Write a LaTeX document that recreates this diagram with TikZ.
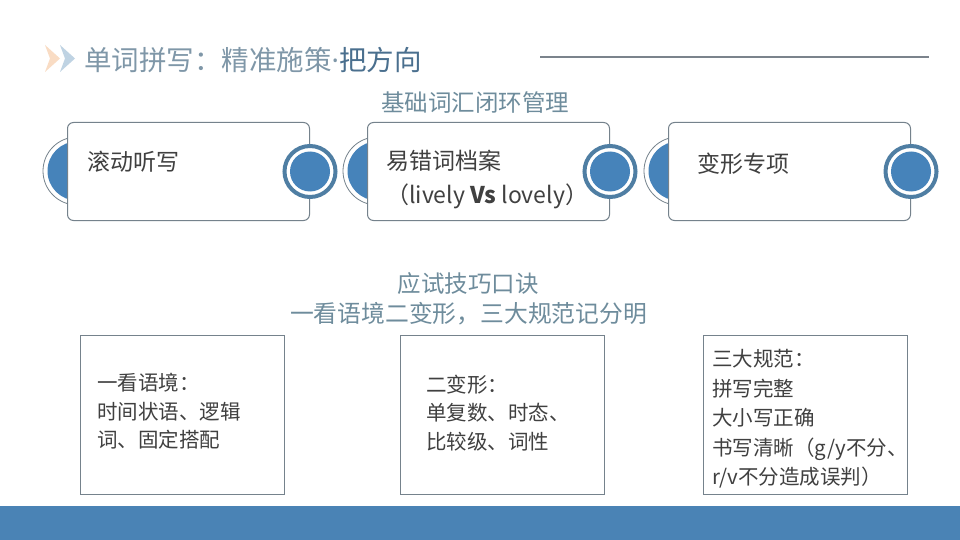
\documentclass[tikz,border=0pt]{standalone}
\usepackage{fontspec}
\setmainfont{Noto Sans CJK SC}
\newfontfamily\latinfont{Noto Sans}
\definecolor{tlight}{HTML}{7F97A8}
\definecolor{tdark}{HTML}{4A6F8E}
\definecolor{subc}{HTML}{6E8C9C}
\definecolor{textgray}{HTML}{404040}
\definecolor{boxgray}{HTML}{75828C}
\definecolor{cblue}{HTML}{4683BA}
\definecolor{ringblue}{HTML}{4F7EA3}
\definecolor{band}{HTML}{4A83B5}
\definecolor{linegray}{HTML}{7B838C}
\definecolor{chevo}{HTML}{F9DCC4}
\definecolor{chevb}{HTML}{BFD3E3}
\begin{document}
\begin{tikzpicture}[x=1pt,y=-1pt,
  topbox/.style={draw=boxgray, line width=1pt, rounded corners=6pt, fill=white,
    minimum width=242pt, minimum height=98pt, anchor=north west, inner sep=0pt},
  bottombox/.style={draw=boxgray, line width=0.9pt, fill=white,
    minimum width=204pt, minimum height=159pt, anchor=north west, inner sep=0pt},
  boxtxt/.style={inner sep=0pt, anchor=base west, text=textgray, font=\fontsize{23}{27}\selectfont},
  smalltxt/.style={inner sep=0pt, anchor=base west, text=textgray, font=\fontsize{20.5}{24}\selectfont},
  subtxt/.style={inner sep=0pt, anchor=base, text=subc, font=\fontsize{23.5}{27}\selectfont}]
\useasboundingbox (0,0) rectangle (960,540);
\fill[white] (0,0) rectangle (960,540);

% title chevrons
\fill[chevo] (45,45) -- (60,58.5) -- (45,72) -- (50,58.5) -- cycle;
\fill[chevb] (60,45) -- (75,58.5) -- (60,72) -- (65,58.5) -- cycle;
\node[inner sep=0pt, anchor=base west, font=\fontsize{27.5}{30}\selectfont] (title) at (84,70.5)
  {{\color{tlight}单词拼写：精准施策{\latinfont ·}}{\color{tdark}把方向}};
\coordinate (la) at (540,57);
\coordinate (lb) at (929,57);
\draw[linegray, line width=1.2pt] (la) -- (lb);

\node[subtxt] (sub1) at (475,112) {基础词汇闭环管理};

% top boxes: back circles first
\foreach \cx in {77,377,678}{
  \fill[white] (\cx,171) circle (34);
  \draw[boxgray, line width=0.8pt] (\cx,171) circle (34);
  \fill[cblue] (\cx,171) circle (29.5);
}
\node[topbox] (b1) at (67,122) {};
\node[topbox] (b2) at (367,122) {};
\node[topbox] (b3) at (668,122) {};
\foreach \b in {b1,b2,b3}{
  \fill[white] (\b.east) circle (27.5);
  \draw[ringblue, line width=4pt] (\b.east) circle (25.5);
  \fill[cblue] (\b.east) circle (20);
}
\node[boxtxt] (t1) at (87,170.7) {滚动听写};
\node[boxtxt] (t2a) at (386,170) {易错词档案};
\node[boxtxt] (t2b) at (386,203.7) {（lively \textbf{Vs} lovely）};
\node[boxtxt] (t3) at (697,172.8) {变形专项};

% middle
\node[subtxt] (sub2) at (468,292) {应试技巧口诀};
\node[subtxt, font=\fontsize{23.8}{27}\selectfont] (sub3) at (468.5,322) {一看语境二变形，三大规范记分明};

% bottom boxes
\node[bottombox] (bA) at (80,335) {};
\node[bottombox] (bB) at (400,335) {};
\node[bottombox] (bC) at (703,335) {};

\node[smalltxt] (a1) at (97,390.8) {一看语境：};
\node[smalltxt] (a2) at (97,419.8) {时间状语、逻辑};
\node[smalltxt] (a3) at (97,447.8) {词、固定搭配};

\node[smalltxt] (bb1) at (426,392.8) {二变形：};
\node[smalltxt] (bb2) at (426,420.8) {单复数、时态、};
\node[smalltxt] (bb3) at (426,449.8) {比较级、词性};

\node[smalltxt] (c1) at (712,366.8) {三大规范：};
\node[smalltxt] (c2) at (712,396.3) {拼写完整};
\node[smalltxt] (c3) at (712,425.8) {大小写正确};
\node[smalltxt] (c4) at (712,455.3) {书写清晰（g/y不分、};
\node[smalltxt] (c5) at (712,484.8) {r/v不分造成误判）};

% bottom band
\fill[band] (0,506) rectangle (960,540);
\end{tikzpicture}
\end{document}
